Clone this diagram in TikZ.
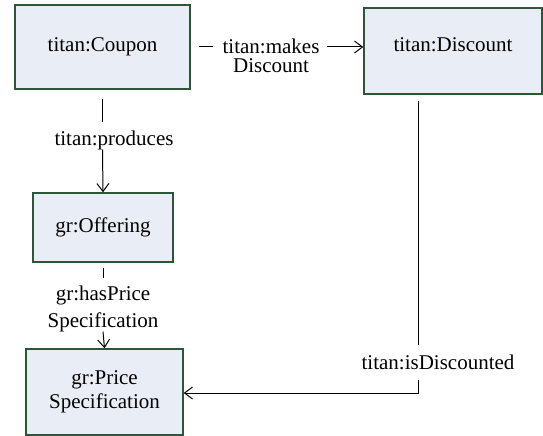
\documentclass[tikz,border=0pt]{standalone}
\usepackage{fontspec}
\setmainfont{Liberation Serif}
\usetikzlibrary{arrows.meta}
\definecolor{boxfill}{RGB}{233,237,245}
\definecolor{boxline}{RGB}{45,85,55}

\begin{document}
\begin{tikzpicture}[x=1pt,y=-1pt,
  box/.style={draw=boxline, fill=boxfill, line width=1.4pt, inner sep=0pt,
    align=center, font=\fontsize{21}{24}\selectfont},
  rel/.style={inner sep=0pt, align=center},
  link/.style={line width=1pt, draw=black},
  head/.style={-{Straight Barb[length=8pt,width=12pt]}}
]
\useasboundingbox (0,0) rectangle (543,436);

% classes
\node[box, minimum width=175pt, minimum height=84pt] (coupon) at (102.5,47) {titan:Coupon};
\node[box, minimum width=178pt, minimum height=86pt, text depth=12pt] (discount) at (453,51) {titan:Discount};
\node[box, minimum width=140pt, minimum height=69pt] (offering) at (103,227.5) {gr:Offering};
\node[box, minimum width=157pt, minimum height=86pt] (price) at (104.5,392) {gr:Price\\Specification};

% property labels
\node[rel, font=\fontsize{21}{19}\selectfont] (makes) at (271,55.5) {titan:makes\\Discount};
\node[rel, font=\fontsize{21}{24}\selectfont] (produces) at (114,140) {titan:produces};
\node[rel, font=\fontsize{21}{27}\selectfont] (hasprice) at (103,308.5) {gr:hasPrice\\Specification};
\node[rel, font=\fontsize{21}{24}\selectfont] (isdisc) at (438,362) {titan:isDiscounted};
\coordinate (bend) at (418,393);

% titan:makesDiscount
\draw[link, shorten <=8pt, shorten >=9.5pt] (coupon.east) -- (coupon.east -| makes.west);
\draw[link, head, shorten <=7.5pt] (coupon.east -| makes.east) -- (coupon.east -| discount.west);

% titan:produces
\draw[link, shorten <=9pt, shorten >=8.5pt] (coupon.south) -- (coupon.south |- produces.north);
\draw[link, head] (coupon.south |- produces.south) -- (offering.north);

% gr:hasPriceSpecification
\draw[link, shorten <=5pt, shorten >=7.5pt] (offering.south) -- (offering.south |- hasprice.north);
\draw[link, head] (offering.south |- hasprice.south) -- (price.north);

% titan:isDiscounted
\draw[link, shorten <=6pt, shorten >=9.5pt] (discount.south -| bend) -- (bend |- isdisc.north);
\draw[link, head, shorten <=10pt] (bend |- isdisc.south) -- (bend) -- (bend -| price.east);
\end{tikzpicture}
\end{document}
